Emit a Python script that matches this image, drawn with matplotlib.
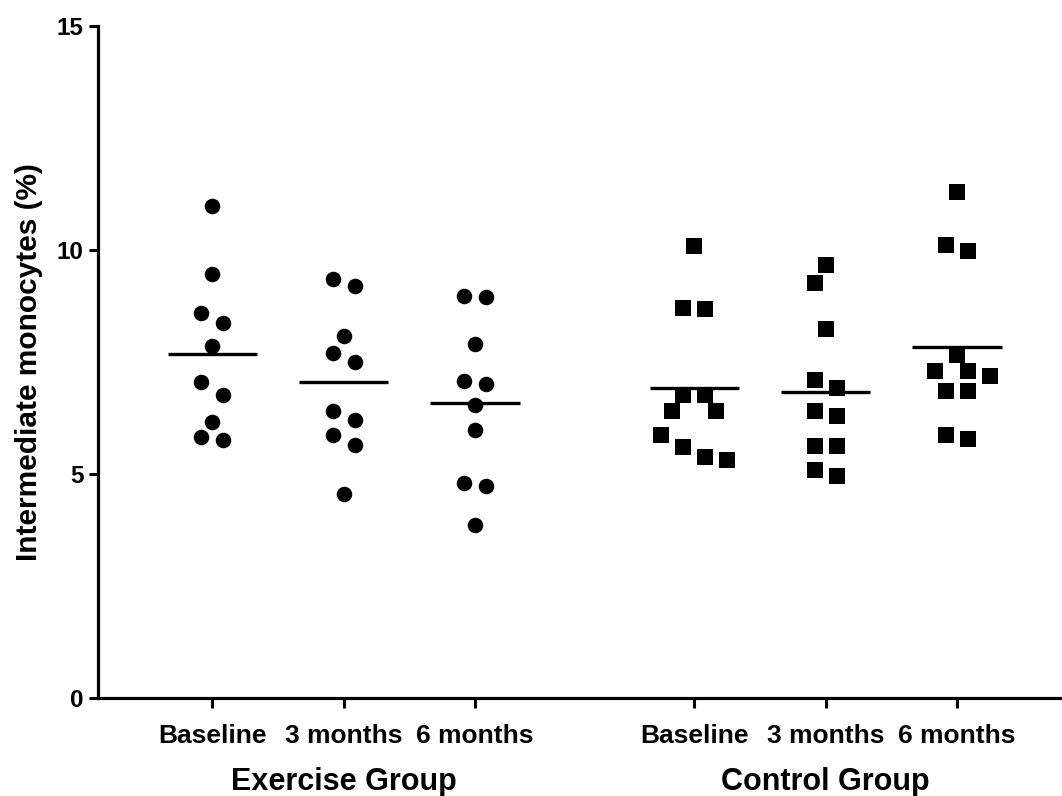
import numpy as np
import matplotlib
matplotlib.use('Agg')
import matplotlib.pyplot as plt
from matplotlib.transforms import blended_transform_factory

plt.rcParams['font.family'] = ['Liberation Sans', 'DejaVu Sans']
plt.rcParams['font.weight'] = 'bold'

# values (% intermediate monocytes)
ex_base = [10.98, 9.46, 8.60, 8.37, 7.85, 7.06, 6.76, 6.15, 5.82, 5.77]
ex_3m = [9.35, 9.19, 8.08, 7.71, 7.51, 6.41, 6.20, 5.87, 5.64, 4.56]
ex_6m = [8.98, 8.96, 7.91, 7.07, 7.02, 6.54, 5.98, 4.81, 4.74, 3.86]
ct_base = [10.08, 8.71, 8.68, 6.77, 6.77, 6.41, 6.41, 5.87, 5.61, 5.39, 5.31]
ct_3m = [9.67, 9.26, 8.24, 7.10, 6.92, 6.41, 6.30, 5.63, 5.63, 5.10, 4.96]
ct_6m = [11.30, 10.11, 9.98, 7.66, 7.31, 7.29, 7.18, 6.86, 6.86, 5.86, 5.78]

timepoints = ['Baseline', '3 months', '6 months']
groups = ['Exercise Group', 'Control Group']

STEP = 0.0837      # horizontal step in data units (~11 px)
PX_Y = 44.8        # px per y unit
PX_STEP = 11.0


def swarm_offsets(vals, thr=0.31, diam=15.5):
    # close values go side by side, centred; shift outwards if they'd overlap
    vals = np.asarray(vals)
    order = np.argsort(-vals, kind='stable')
    clusters = []
    cur = [order[0]]
    for a, b in zip(order[:-1], order[1:]):
        if vals[a] - vals[b] < thr:
            cur.append(b)
        else:
            clusters.append(cur)
            cur = [b]
    clusters.append(cur)

    ks = np.zeros(len(vals))
    placed = []
    for c in clusters:
        n = len(c)
        for i, idx in enumerate(c):
            target = (i - (n - 1) / 2) * 2
            cands = sorted(np.arange(-8, 9), key=lambda k: (abs(k - target), -np.sign(target) * k))
            for k in cands:
                ok = True
                for j in placed:
                    dx = (k - ks[j]) * PX_STEP
                    dy = (vals[idx] - vals[j]) * PX_Y
                    if np.hypot(dx, dy) < diam:
                        ok = False
                        break
                if ok:
                    ks[idx] = k
                    break
            placed.append(idx)
    return ks * STEP


fig = plt.figure(figsize=(10.62, 7.96), dpi=100)
ax = fig.add_axes([98 / 1062, 98 / 796, 964 / 1062, 672 / 796])

series = [ex_base, ex_3m, ex_6m, ct_base, ct_3m, ct_6m]
positions = [1, 2, 3, 4.67, 5.67, 6.67]
markers = ['o', 'o', 'o', 's', 's', 's']

for vals, pos, mk in zip(series, positions, markers):
    vals = np.asarray(vals)
    xs = pos + swarm_offsets(vals, diam=15.5 if mk == 'o' else 18.5)
    ax.scatter(xs, vals, s=125, marker=mk, color='black', linewidths=0,
               zorder=3, clip_on=False)
    m = np.mean(vals)
    ax.hlines(m, pos - 0.34, pos + 0.34, color='black', lw=2.4, zorder=4)

ax.set_xlim(0.13, 7.47)
ax.set_ylim(0, 15)
ax.set_yticks([0, 5, 10, 15])
ax.set_xticks(positions)
ax.set_xticklabels(timepoints * 2)

for s in ['top', 'right']:
    ax.spines[s].set_visible(False)
for s in ['left', 'bottom']:
    ax.spines[s].set_linewidth(2.3)

ax.tick_params(axis='y', length=6.5, width=2.2, pad=4, labelsize=17.5)
ax.tick_params(axis='x', length=7, width=2.2, pad=12, labelsize=19)

ax.text(-0.072, 0.5, 'Intermediate monocytes (%)', transform=ax.transAxes,
        rotation=90, ha='center', va='center', fontsize=21.5, fontweight='bold')

trans = blended_transform_factory(ax.transData, ax.transAxes)
ax.text(np.mean(positions[:3]), -0.137, groups[0], transform=trans,
        ha='center', va='baseline', fontsize=22, fontweight='bold')
ax.text(np.mean(positions[3:]), -0.137, groups[1], transform=trans,
        ha='center', va='baseline', fontsize=22, fontweight='bold')

plt.savefig('out.png', dpi=100)
